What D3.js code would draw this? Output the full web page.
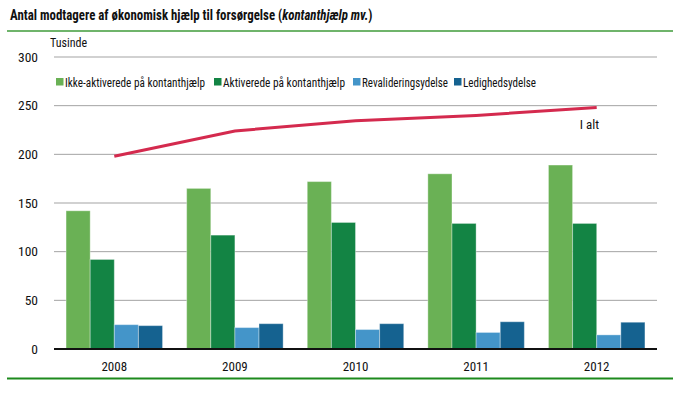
<!DOCTYPE html>
<html>
<head>
<meta charset="utf-8">
<script src="https://cdn.jsdelivr.net/npm/d3@7"></script>
<style>
  body { margin: 0; background: #fff; }
  text { font-family: "Liberation Sans Narrow", "Roboto Condensed", "Liberation Sans", sans-serif; fill: #111; }
</style>
</head>
<body>
<div id="chart"></div>
<script>
// data (thousands)
var years = ["2008", "2009", "2010", "2011", "2012"];
var seriesNames = ["Ikke-aktiverede på kontanthjælp", "Aktiverede på kontanthjælp", "Revalideringsydelse", "Ledighedsydelse"];
var ikkeAktiverede = [142, 165, 172, 180, 189];
var aktiverede = [92, 117, 130, 129, 129];
var revalidering = [25, 22, 20, 17, 14.5];
var ledighed = [24, 26, 26, 28, 27.5];
var iAlt = [198, 224, 234.5, 240, 248];
var yTicks = [0, 50, 100, 150, 200, 250, 300];
var colors = ["#6ab155", "#138444", "#4495c9", "#156290"];

var series = [ikkeAktiverede, aktiverede, revalidering, ledighed];

var width = 680, height = 394;
var margin = { top: 57, right: 23, bottom: 45, left: 54 },
    plotW = width - margin.left - margin.right,
    plotH = height - margin.top - margin.bottom;

var svg = d3.select("#chart")
    .append("svg")
    .attr("width", width)
    .attr("height", height);

// title (squeezed a bit to match the condensed face)
var title = svg.append("text")
    .attr("transform", "translate(10,20) scale(0.86,1)")
    .style("font-size", "15px")
    .style("font-weight", "bold");
title.append("tspan").text("Antal modtagere af økonomisk hjælp til forsørgelse (");
title.append("tspan").style("font-style", "italic").text("kontanthjælp mv.");
title.append("tspan").text(")");

// green rules
svg.append("line")
    .attr("x1", 7).attr("x2", 673).attr("y1", 31).attr("y2", 31)
    .attr("stroke", "#3f9b3a").attr("stroke-width", 1.5);
svg.append("line")
    .attr("x1", 7).attr("x2", 673).attr("y1", 378.5).attr("y2", 378.5)
    .attr("stroke", "#1d8a1d").attr("stroke-width", 2);

var g = svg.append("g")
    .attr("transform", "translate(" + margin.left + "," + margin.top + ")");

var x0 = d3.scaleBand().domain(years).range([0, plotW]).paddingInner(0.2).paddingOuter(0.1);
var x1 = d3.scaleBand().domain(d3.range(4)).range([0, x0.bandwidth()]);
var y = d3.scaleLinear().domain([0, 300]).range([plotH, 0]);

// grid
g.selectAll(".grid")
    .data(yTicks.filter(function (d) { return d > 0; }))
    .enter()
    .append("line")
    .attr("x1", 0).attr("x2", plotW)
    .attr("y1", function (d) { return y(d); })
    .attr("y2", function (d) { return y(d); })
    .attr("stroke", "#a3a3a3")
    .attr("stroke-width", 1);

// y axis labels
g.selectAll(".ylab")
    .data(yTicks)
    .enter()
    .append("text")
    .attr("x", -16)
    .attr("y", function (d) { return y(d); })
    .attr("dy", "0.35em")
    .attr("text-anchor", "end")
    .style("font-size", "13.5px")
    .text(function (d) { return d; });

svg.append("text")
    .attr("x", 50)
    .attr("y", 47)
    .style("font-size", "12px")
    .text("Tusinde");

// bars
series.forEach(function (vals, si) {
    g.selectAll(".bar" + si)
        .data(vals)
        .enter()
        .append("rect")
        .attr("x", function (d, i) { return x0(years[i]) + x1(si); })
        .attr("y", function (d) { return y(d); })
        .attr("width", x1.bandwidth())
        .attr("height", function (d) { return plotH - y(d); })
        .attr("fill", colors[si])
        .attr("stroke", "#ffffff")
        .attr("stroke-opacity", 0.35)
        .attr("stroke-width", 1);
});

// baseline
g.append("line")
    .attr("x1", 0).attr("x2", plotW)
    .attr("y1", plotH).attr("y2", plotH)
    .attr("stroke", "#111").attr("stroke-width", 2);

// x labels
g.selectAll(".xlab")
    .data(years)
    .enter()
    .append("text")
    .attr("x", function (d) { return x0(d) + x0.bandwidth() / 2; })
    .attr("y", plotH + 22)
    .attr("text-anchor", "middle")
    .style("font-size", "13px")
    .text(function (d) { return d; });

// total line
var line = d3.line()
    .x(function (d, i) { return x0(years[i]) + x0.bandwidth() / 2; })
    .y(function (d) { return y(d); });

g.append("path")
    .datum(iAlt)
    .attr("d", line)
    .attr("fill", "none")
    .attr("stroke", "#d42a4e")
    .attr("stroke-width", 3);

g.append("text")
    .attr("x", x0("2012") + x0.bandwidth() / 2 - 17)
    .attr("y", y(iAlt[4]) + 21)
    .style("font-size", "13px")
    .text("I alt");

// legend
var legendX = [56, 214, 353, 454];
var legendW = [140, 122, 86, 73];
var legend = svg.selectAll(".legend")
    .data(seriesNames)
    .enter()
    .append("g")
    .attr("transform", function (d, i) { return "translate(" + legendX[i] + ",78)"; });

legend.append("rect")
    .attr("width", 7.5).attr("height", 7.5)
    .attr("fill", function (d, i) { return colors[i]; });

legend.append("text")
    .attr("x", 9)
    .attr("y", 4)
    .attr("dy", "0.35em")
    .attr("textLength", function (d, i) { return legendW[i]; })
    .attr("lengthAdjust", "spacingAndGlyphs")
    .style("font-size", "13px")
    .text(function (d) { return d; });
</script>
</body>
</html>
